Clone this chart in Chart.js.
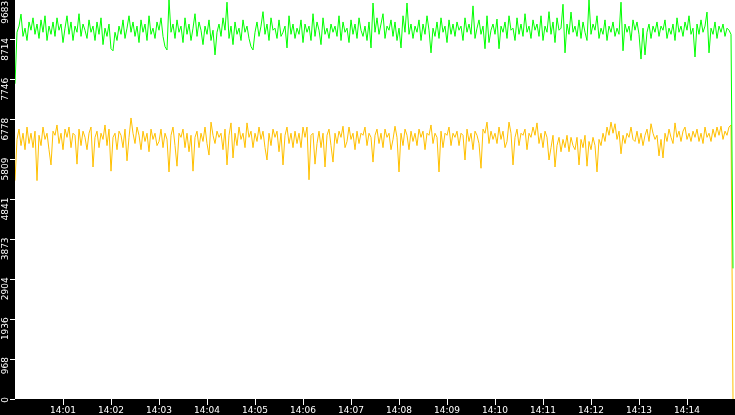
<!DOCTYPE html>
<html>
<head>
<meta charset="utf-8">
<script src="https://cdn.jsdelivr.net/npm/chart.js@4.4.1/dist/chart.umd.min.js"></script>
<style>
  html, body { margin: 0; padding: 0; background: #000; }
  #wrap { width: 735px; height: 415px; }
</style>
</head>
<body>
<div id="wrap"><canvas id="c" width="735" height="415"></canvas></div>
<script>
// ---- data ----
const SAMPLE_STEP = 2.5; // seconds between samples, starting 14:00:00

const greenValues = [
  7650, 8900, 9050, 9340, 8800, 9000, 8700, 9150, 8950, 9250, 8850, 9100, 8750, 9200, 8900, 9300, 8700, 9050, 8850, 9150,
  8800, 9250, 8950, 9100, 8650, 9000, 9300, 8850, 9150, 8700, 9050, 8900, 9350, 8800, 9100, 8950, 8750, 9200, 8900, 9050,
  8700, 9150, 8850, 9250, 8600, 9000, 8800, 9100, 8500, 8450, 8900, 8700, 9050, 8850, 9200, 8750, 9000, 9300, 8900, 9150,
  8800, 9050, 8650, 9200, 8900, 9100, 8700, 9300, 8850, 9000, 8750, 9150, 8950, 9250, 8800, 8550, 8470, 9683, 8900, 9100,
  8750, 9200, 8900, 9050, 8650, 9250, 8850, 9100, 8700, 9000, 9350, 8800, 9150, 8950, 8600, 9050, 8850, 9200, 8700, 8950,
  8350, 8900, 9100, 8800, 9250, 8950, 9630, 8750, 9050, 8600, 9150, 8850, 9000, 8700, 9200, 8900, 9050, 8750, 8550, 8470,
  8900, 9150, 8800, 9050, 9400, 8850, 9100, 8700, 9250, 8950, 9000, 8750, 9200, 8800, 8900, 9050, 8520, 9300, 8850, 9100,
  8750, 9000, 8850, 9200, 8650, 9100, 8900, 9050, 8700, 9350, 8800, 9150, 8950, 8600, 9250, 8850, 9000, 8750, 9100, 8900,
  9050, 8800, 9300, 8700, 9150, 8900, 9000, 8650, 9200, 8850, 9100, 8750, 9250, 8950, 8800, 9050, 8700, 9150, 8520, 9610,
  8900, 9250, 8850, 9100, 9350, 8750, 9050, 8950, 9200, 8800, 9150, 8700, 9000, 8520, 9300, 8900, 9610, 8850, 9100, 8750,
  9050, 8900, 9200, 8700, 9100, 8850, 9300, 8950, 8400, 9000, 8800, 9150, 8750, 9250, 8900, 9050, 8650, 9200, 8850, 9100,
  8800, 9150, 8950, 9050, 8700, 9250, 8900, 9100, 8850, 9540, 8750, 9000, 9200, 8850, 9050, 8500, 9300, 8650, 8950, 9100,
  8850, 9220, 8500, 9050, 8900, 9150, 8750, 9300, 8950, 9000, 8700, 9250, 8850, 9100, 8800, 9350, 8900, 9050, 8750, 9200,
  8950, 9100, 8800, 9300, 8700, 9050, 8900, 9400, 8850, 9150, 8650, 9250, 8950, 9000, 9580, 8400, 9100, 8850, 9390, 8900,
  9050, 8800, 9200, 8750, 9150, 8900, 8700, 9683, 8850, 9100, 8950, 9300, 8750, 9000, 8850, 9200, 8700, 9050, 8900, 9150,
  8800, 9000, 8850, 9630, 8450, 9100, 8900, 9050, 8700, 9200, 8950, 9150, 8850, 8250, 9000, 8350, 8900, 9100, 8750, 9050,
  8900, 9150, 8800, 9050, 8950, 9200, 8750, 9000, 8850, 9100, 8700, 9250, 8900, 9050, 8800, 9150, 8950, 9300, 8850, 9000,
  8300, 9100, 8850, 9200, 8900, 9050, 9390, 8400, 9000, 8850, 9150, 8750, 9050, 8900, 9100, 8800, 9000, 8950, 8850, 3170
];

const yellowValues = [
  5300, 6300, 6550, 6150, 6450, 6050, 6600, 6200, 6450, 6100, 6500, 5300, 6400, 6150, 6600, 6300, 6450, 6050, 5680, 6500,
  6400, 6650, 6200, 6450, 6050, 6550, 6350, 6600, 6100, 6450, 6400, 5700, 6550, 6150, 6500, 6350, 6050, 6450, 6600, 5630,
  6350, 6500, 6100, 6450, 6300, 6650, 6150, 6550, 5530, 6350, 6450, 6050, 6500, 6400, 6100, 6550, 5780, 6350, 6820, 6450,
  6200, 6600, 6400, 6050, 6500, 6250, 6450, 6000, 6550, 6300, 6450, 6150, 6250, 6550, 6100, 6450, 6300, 5510, 6400, 6600,
  6150, 5650, 6450, 6350, 6550, 6100, 6450, 6000, 6400, 5530, 6350, 6500, 6100, 6450, 6250, 6600, 6200, 5920, 6720, 6400,
  6200, 6500, 6350, 6450, 6050, 6550, 5680, 6400, 6700, 5850, 6450, 6150, 6600, 6300, 6450, 6100, 6700, 6350, 6500, 6100,
  6450, 6250, 6600, 6300, 6500, 6100, 5800, 6450, 6150, 6550, 6350, 6500, 6000, 6450, 5680, 6400, 6600, 6200, 6450, 6100,
  6500, 6200, 6450, 6100, 6600, 6350, 6600, 5320, 6400, 6450, 5700, 6200, 6500, 6100, 6450, 5630, 6400, 6550, 6150, 5750,
  6450, 6200, 6500, 6350, 6620, 6100, 6250, 6600, 6300, 6450, 6050, 6500, 6200, 6450, 6400, 6600, 6150, 6450, 6350, 5750,
  6400, 6550, 6200, 6450, 6100, 6550, 6350, 6450, 6050, 6300, 6620, 6350, 5510, 6450, 6150, 6550, 6400, 6050, 6500, 6250,
  6450, 6150, 6550, 6350, 6500, 6050, 6450, 6400, 6650, 6200, 6450, 6350, 5510, 6500, 6100, 6450, 6400, 6600, 6150, 6450,
  6350, 6500, 6150, 6450, 6400, 5800, 6550, 6250, 6450, 6050, 6500, 6400, 6200, 5600, 6550, 6450, 6720, 6200, 6500, 6300,
  6450, 6200, 6600, 6300, 6500, 6100, 6250, 6720, 6450, 5680, 6350, 6550, 6150, 6450, 6400, 6550, 6050, 6450, 6350, 6600,
  6400, 6700, 6200, 6450, 6100, 6500, 6350, 5800, 6100, 6400, 5630, 6150, 6350, 6000, 6300, 6100, 6400, 6000, 6350, 6150,
  6050, 6350, 5680, 6300, 6100, 6400, 5650, 6250, 6050, 6350, 6150, 5510, 6300, 6150, 6450, 6250, 6600, 6400, 6720, 6450,
  6680, 6300, 6500, 5950, 6400, 6200, 6450, 6350, 6600, 6300, 6250, 6500, 6200, 6450, 6150, 6400, 6550, 6250, 6680, 6450,
  6300, 6400, 5900, 6300, 5850, 6450, 6250, 6550, 6350, 6200, 6700, 6350, 6500, 6250, 6500, 6600, 6300, 6450, 6250, 6500,
  6350, 6550, 6250, 6450, 6200, 6600, 6350, 6450, 6250, 6550, 6350, 6600, 6400, 6620, 6300, 6500, 6400, 6600, 6650, 0
];

const yTickValues = [0, 968.3, 1936.6, 2904.9, 3873.2, 4841.5, 5809.8, 6778.1, 7746.4, 8714.7, 9683];
const yTickLabels = ['0', '968', '1936', '2904', '3873', '4841', '5809', '6778', '7746', '8714', '9683'];

const xTickValues = [60, 120, 180, 240, 300, 360, 420, 480, 540, 600, 660, 720, 780, 840];
const xTickLabels = ['14:01', '14:02', '14:03', '14:04', '14:05', '14:06', '14:07', '14:08', '14:09', '14:10', '14:11', '14:12', '14:13', '14:14'];

const X_MIN = 0, X_MAX = 900, Y_MIN = 0, Y_MAX = 9683;

// ---- build ----
const sampleTimes = greenValues.map((_, i) => i * SAMPLE_STEP);
const toPoints = vals => vals.map((v, i) => ({ x: sampleTimes[i], y: v }));

const bgPlugin = {
  id: 'bg',
  beforeDraw(chart) {
    const { ctx, chartArea: a } = chart;
    ctx.save();
    ctx.fillStyle = '#000';
    ctx.fillRect(0, 0, chart.width, chart.height);
    ctx.fillStyle = '#fff';
    ctx.fillRect(a.left, a.top, a.right - a.left, a.bottom - a.top);
    ctx.restore();
  }
};

const axisFont = { family: 'DejaVu Sans', size: 9 };

new Chart(document.getElementById('c'), {
  type: 'line',
  data: {
    datasets: [
      { label: 'green', data: toPoints(greenValues), borderColor: '#00ff00', borderWidth: 1, pointRadius: 0, tension: 0, fill: false },
      { label: 'yellow', data: toPoints(yellowValues), borderColor: '#ffc000', borderWidth: 1, pointRadius: 0, tension: 0, fill: false }
    ]
  },
  options: {
    responsive: false,
    devicePixelRatio: 1,
    animation: false,
    events: [],
    layout: { padding: 0 },
    plugins: { legend: { display: false }, tooltip: { enabled: false } },
    scales: {
      x: {
        type: 'linear',
        min: X_MIN, max: X_MAX,
        afterBuildTicks: s => { s.ticks = xTickValues.map(v => ({ value: v })); },
        afterFit: s => { s.height = 16; s.paddingLeft = 0; s.paddingRight = 0; },
        grid: { drawOnChartArea: false, drawTicks: true, tickLength: 6, color: '#fff', lineWidth: 1 },
        border: { display: false },
        ticks: {
          autoSkip: false, maxRotation: 0, minRotation: 0, padding: 0,
          color: '#fff', font: axisFont,
          callback: (v, i) => xTickLabels[i]
        }
      },
      y: {
        type: 'linear',
        min: Y_MIN, max: Y_MAX,
        afterBuildTicks: s => { s.ticks = yTickValues.map(v => ({ value: v })); },
        afterFit: s => { s.width = 15; s.paddingTop = 0; s.paddingBottom = 0; },
        grid: {
          drawOnChartArea: false, drawTicks: true, tickLength: 5, lineWidth: 1,
          color: '#fff',
          tickColor: c => (c.index === yTickValues.length - 1 ? 'rgba(0,0,0,0)' : '#fff')
        },
        border: { display: false },
        ticks: {
          autoSkip: false, minRotation: 90, maxRotation: 90, padding: 4, labelOffset: -2,
          color: '#fff', font: axisFont,
          callback: (v, i) => (i === yTickLabels.length - 1 ? yTickLabels[i] + ' ' : yTickLabels[i])
        }
      }
    }
  },
  plugins: [bgPlugin]
});
</script>
</body>
</html>
